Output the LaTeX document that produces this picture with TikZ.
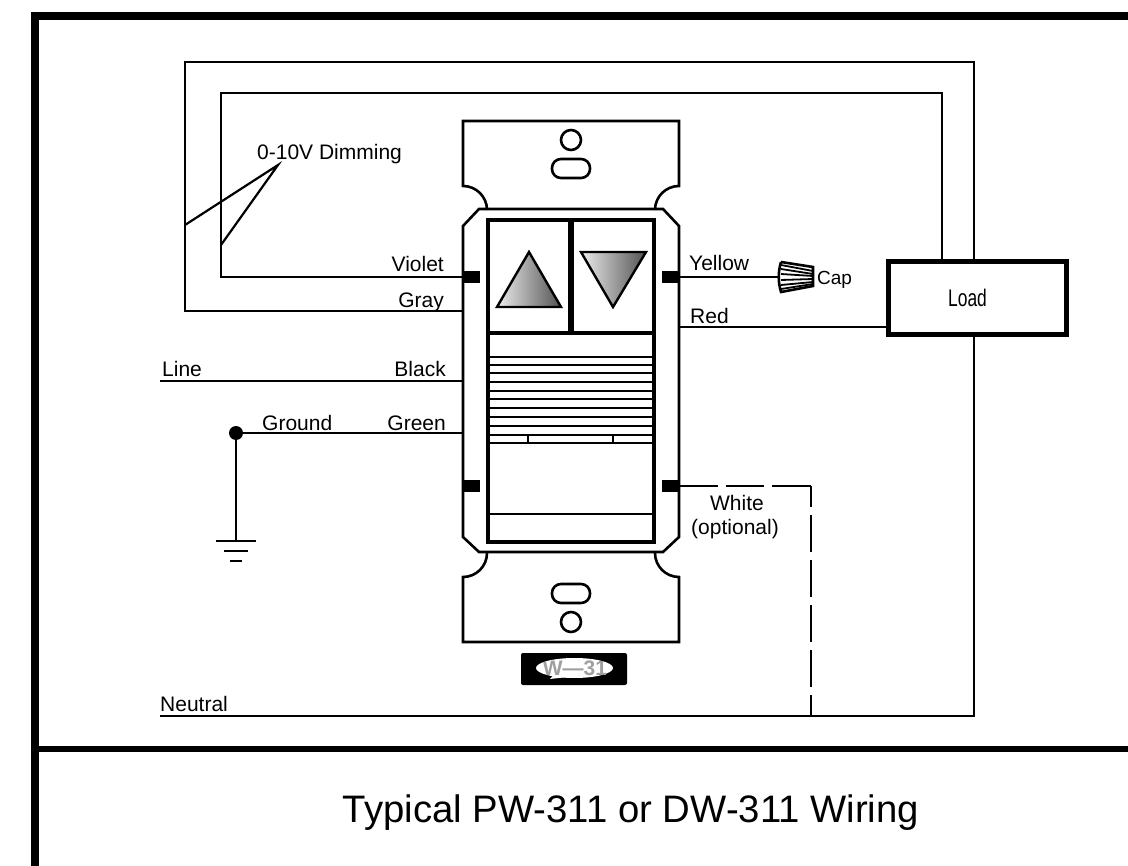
\documentclass[tikz,border=0pt]{standalone}
\usepackage{fontspec}
\setmainfont{Liberation Sans}
\usetikzlibrary{positioning}
\tikzset{
  wire/.style={line width=2.2pt},
  plate/.style={line width=2.6pt},
  inner/.style={line width=3.4pt},
  stripe/.style={line width=2pt},
  term/.style={fill=black,draw=none,minimum width=17pt,minimum height=12pt,inner sep=0pt},
  lbl/.style={inner sep=0pt,font=\fontsize{21}{23}\selectfont},
  frame/.style={line width=8pt},
  tri/.style={line width=2.4pt,left color=gray!15,right color=gray!65!black,line join=miter}
}
\begin{document}
\begin{tikzpicture}[x=1pt,y=-1pt]
    \useasboundingbox (0,0) rectangle (1128,866);
    % frame
    \draw[frame] (35,866) -- (35,16) -- (1128,16);
    \draw[frame,line width=6pt] (35,749) -- (1128,749);
    % wall plate
    \draw[plate] (487,210) arc (0:-90:24) -- (463,121) -- (679,121) -- (679,186) arc (-90:-180:24);
    \draw[plate] (479,209) -- (663,209) -- (679,226) -- (679,537) -- (663,552) -- (479,552) -- (463,537) -- (463,226) -- cycle;
    \draw[plate] (487,553) arc (0:90:24) -- (463,642) -- (679,642) -- (679,577) arc (90:180:24);
    \draw[plate] (571,140) circle (10);
    \draw[plate] (571,622) circle (10);
    \draw[plate,rounded corners=9pt] (552,159) rectangle (590,178);
    \draw[plate,rounded corners=9pt] (552,584) rectangle (590,603);
    % switch face
    \draw[inner] (488,220) rectangle (654,542);
    \draw[line width=5.5pt] (571,219) -- (571,333);
    \draw[inner] (488,333) -- (654,333);
    \foreach \y in {357,373,391,408,426,435,443} \draw[stripe,line width=2.8pt] (488,\y) -- (654,\y);
    \foreach \y in {365,382,399,417} \draw[stripe] (488,\y) -- (654,\y);
    \draw[stripe] (528,435) -- (528,443) (613,435) -- (613,443);
    \draw[stripe,line width=2.6pt] (488,514) -- (654,514);
    \draw[tri] (529,252) -- (561,307) -- (497,307) -- cycle;
    \draw[tri] (581,252) -- (646,252) -- (613,307) -- cycle;
    % terminals
    \node[term] (TVi) at (471.5,277) {};
    \node[term] (TYe) at (670.5,277) {};
    \node[term] (TLo) at (471.5,486) {};
    \node[term] (TWh) at (670.5,486) {};
    % badge
    \fill[rounded corners=2pt] (521,653) rectangle (627,685);
    \fill[white] (574.5,668) ellipse (38.5 and 10);
    \fill[white] (550,679) -- (556,672) -- (585,675) -- cycle;
    \begin{scope}
      \clip (574.5,668) ellipse (38.5 and 10);
      \node[inner sep=0pt,text=gray!75,font=\bfseries\fontsize{21}{23}\selectfont] (Badge) at (575,668) {W—31};
    \end{scope}
    % load
    \node[draw,line width=5pt,minimum width=178pt,minimum height=73pt,inner sep=0pt] (Load) at (977.5,298.5) {};
    \node[inner sep=0pt,font=\fontsize{24}{26}\selectfont,xscale=0.725] (LoadT) at (967.5,298) {Load};
    % wire junctions
    \coordinate (VA) at (221,276);
    \coordinate (VB) at (221,93);
    \coordinate (VC) at (942,93);
    \coordinate (GA) at (185,311);
    \coordinate (GB) at (185,62);
    \coordinate (GC) at (974,62);
    \coordinate (GP) at (463,311);
    \coordinate (NA) at (160,716);
    \coordinate (NB) at (974,716);
    \coordinate (NC) at (811,716);
    \coordinate (WA) at (811,486);
    \coordinate (LA) at (160,381);
    \coordinate (LB) at (463,381);
    \coordinate (RA) at (679,327);
    \coordinate (EB) at (463,433);
    \coordinate (EC) at (236,541);
    \coordinate (DA) at (278,165);
    \coordinate (DB) at (185,225);
    \coordinate (DC) at (221,245);
    \node[circle,fill=black,minimum size=14pt,inner sep=0pt] (EA) at (236,433) {};
    % wires
    \draw[wire] (TVi.west) -- (VA |- TVi.west) -- (VB) -- (VC) -- (VC |- Load.north);
    \draw[wire] (GP) -- (GA) -- (GB) -- (GC) -- (GC |- Load.north);
    \draw[wire] (Load.south -| NB) -- (NB) -- (NA);
    \draw[wire] (LA) -- (LB);
    \draw[wire] (EA) -- (EB);
    \draw[wire] (EA) -- (EC);
    \draw[wire] (RA) -- (RA -| Load.west);
    \draw[wire] (DB) -- (DA) -- (DC);
    \draw[wire,dash pattern=on 38.5pt off 8pt] (TWh.east) -- (WA);
    \draw[wire,dash pattern=on 37pt off 8pt,dash phase=16pt] (WA) -- (NC);
    % ground symbol
    \draw[wire] (216,541) -- (256,541) (224,551) -- (248,551) (230,561) -- (242,561);
    % wire cap
    \coordinate (CapL) at (780,277);
    \draw[wire] (TYe.east) -- (CapL);
    \draw[line width=2.6pt,fill=white] (781,262) -- (813,267) -- (813,286) -- (781,292) .. controls (778,282) and (778,272) .. (781,262);
    \foreach \a/\b in {265/271,269/274,274/276,280/279,285/282,289/284} \draw[line width=1.8pt] (781,\a) -- (813,\b);
    % labels
    \node[lbl,anchor=base west] (LDim) at (257,160) {0-10V Dimming};
    \node[lbl,anchor=base east] (LVio) at (444,272) {Violet};
    \node[lbl,anchor=base east] (LGra) at (444,308) {Gray};
    \node[lbl,anchor=base east] (LBla) at (446,377) {Black};
    \node[lbl,anchor=base east] (LGre) at (446,431) {Green};
    \node[lbl,anchor=base west] (LLin) at (162,377) {Line};
    \node[lbl,anchor=base west] (LGro) at (262,431) {Ground};
    \node[lbl,anchor=base west] (LYel) at (689,271) {Yellow};
    \node[lbl,anchor=base west] (LRed) at (690,324) {Red};
    \node[lbl,anchor=base west,font=\fontsize{19}{21}\selectfont] (LCap) at (817,285) {Cap};
    \node[lbl,anchor=base] (LWhi) at (737,511) {White};
    \node[lbl,anchor=base] (LOpt) at (735,534) {(optional)};
    \node[lbl,anchor=base west] (LNeu) at (160,711) {Neutral};
    \node[inner sep=0pt,anchor=base,font=\fontsize{38.3}{41}\selectfont] (Title) at (631,822) {Typical PW-311 or DW-311 Wiring};
  \end{tikzpicture}
\end{document}
